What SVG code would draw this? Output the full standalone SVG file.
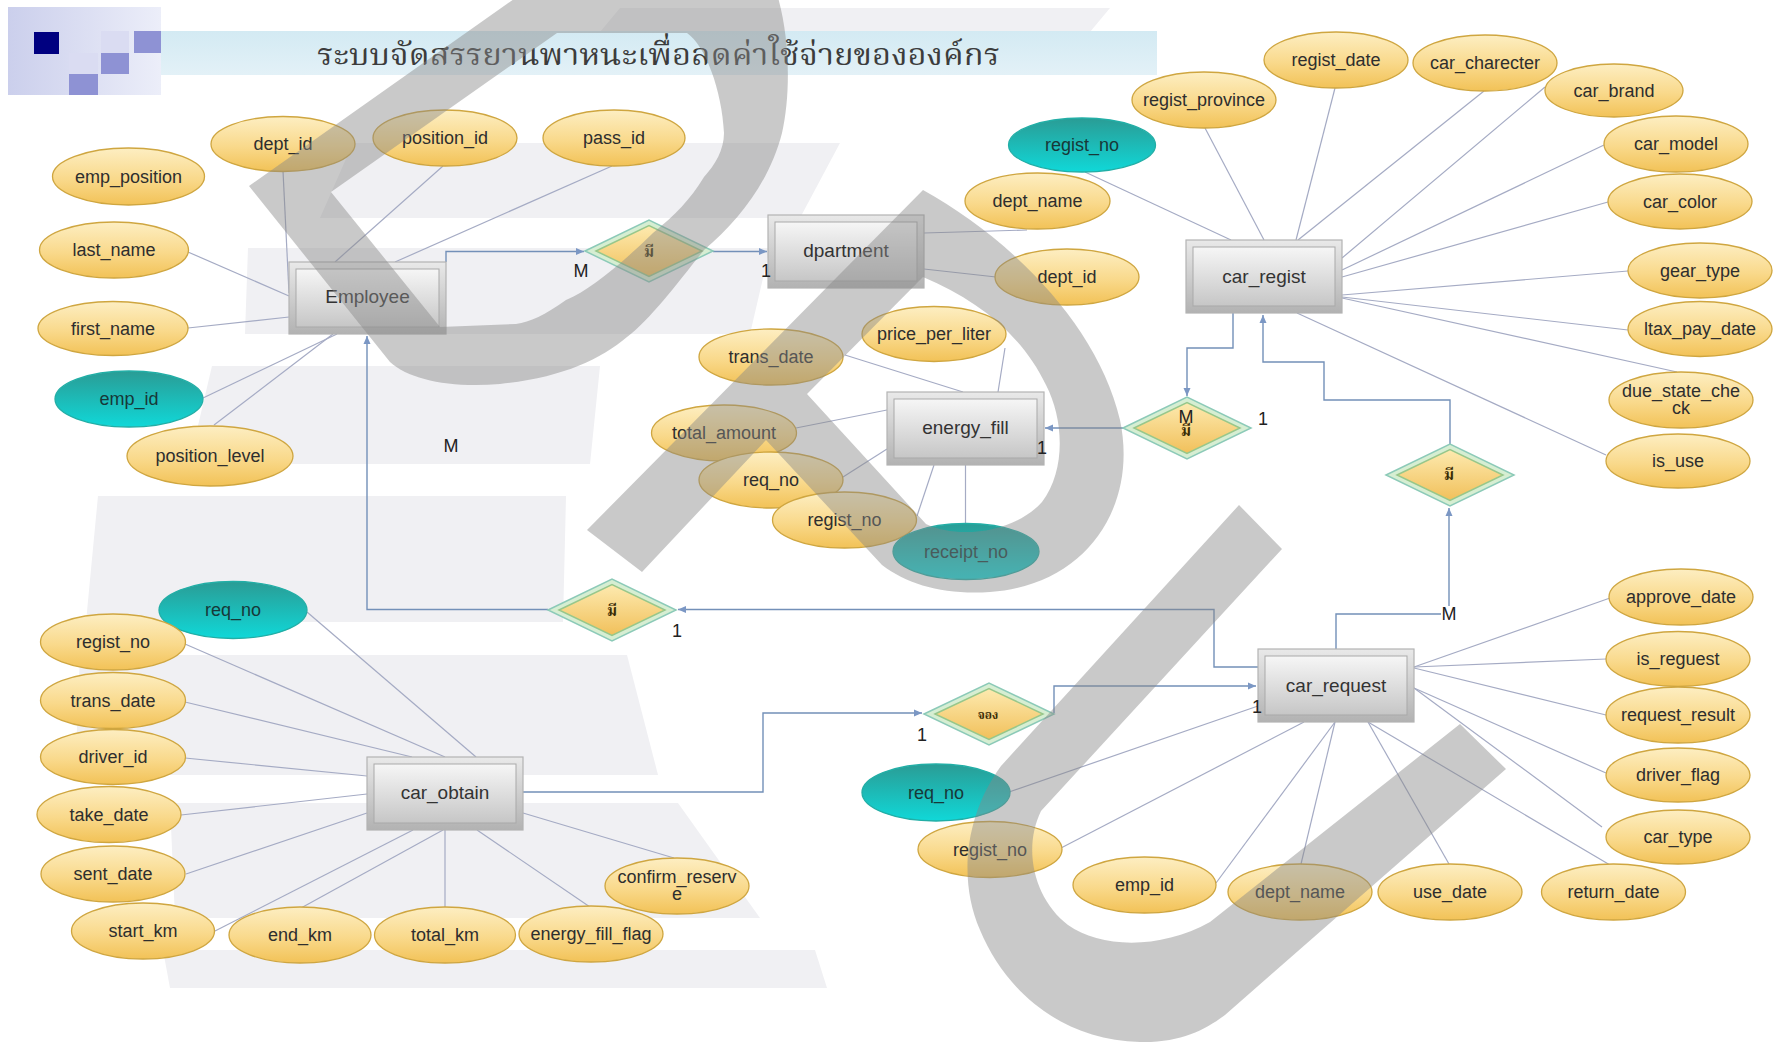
<svg xmlns="http://www.w3.org/2000/svg" width="1773" height="1047" viewBox="0 0 1773 1047">
  <defs>
    <linearGradient id="attrFill" x1="0" y1="0" x2="0" y2="1">
      <stop offset="0" stop-color="#fdeec2"/>
      <stop offset="0.55" stop-color="#f9d98b"/>
      <stop offset="1" stop-color="#f2c257"/>
    </linearGradient>
    <linearGradient id="keyFill" x1="0" y1="0" x2="0" y2="1">
      <stop offset="0" stop-color="#2a9c95"/>
      <stop offset="1" stop-color="#10d8d8"/>
    </linearGradient>
    <linearGradient id="entOuter" x1="0" y1="0" x2="0" y2="1">
      <stop offset="0" stop-color="#e9e9e9"/>
      <stop offset="1" stop-color="#b2b2b2"/>
    </linearGradient>
    <linearGradient id="entInner" x1="0" y1="0" x2="0" y2="1">
      <stop offset="0" stop-color="#f6f6f6"/>
      <stop offset="1" stop-color="#c6c6c6"/>
    </linearGradient>
    <linearGradient id="relFill" x1="0" y1="0" x2="0" y2="1">
      <stop offset="0" stop-color="#fdeab0"/>
      <stop offset="1" stop-color="#f1c05a"/>
    </linearGradient>
    <linearGradient id="panelFill" x1="0" y1="0" x2="1" y2="0">
      <stop offset="0" stop-color="#cbcfec"/>
      <stop offset="1" stop-color="#eceef9"/>
    </linearGradient>
    <linearGradient id="bannerFill" x1="0" y1="0" x2="0" y2="1">
      <stop offset="0" stop-color="#d3eaf3"/>
      <stop offset="1" stop-color="#e3f1f7"/>
    </linearGradient>
    <marker id="arrow" markerUnits="userSpaceOnUse" markerWidth="9" markerHeight="8" refX="8" refY="4" orient="auto">
      <path d="M0,0.5 L8,4 L0,7.5 Z" fill="#7b97c4"/>
    </marker>
    <style>
      .band { fill: #f0f0f3; }
      .link { stroke: #a5abc4; stroke-width: 1.2; fill: none; }
      .rel { stroke: #7390b8; stroke-width: 1.4; fill: none; }
      .attr ellipse { fill: url(#attrFill); stroke: #cfa640; stroke-width: 1.3; }
      .key ellipse { fill: url(#keyFill); stroke: #22aea6; stroke-width: 1.3; }
      .entity .outer { fill: url(#entOuter); stroke: #b3b3b3; stroke-width: 1.2; }
      .entity .inner { fill: url(#entInner); stroke: #a9a9a9; stroke-width: 1; }
      .relation .outer { fill: #d6eed2; stroke: #8ccab8; stroke-width: 1.5; }
      .relation .inner { fill: url(#relFill); stroke: #97c78b; stroke-width: 1.5; }
      text { font-family: "Liberation Sans", Arial, sans-serif; fill: #2e2e2e; text-anchor: middle; }
      .attr text, .key text { font-size: 18px; }
      .key text { fill: #173838; }
      .entity text { font-size: 19px; fill: #333; }
      .thai { font-family: "Noto Serif Thai", "Noto Sans Thai", "Tlwg Typo", "Garuda", "Loma", "Norasi", "Noto Sans", sans-serif; }
      .title-text { text-anchor: start; font-size: 30px; fill: #3c3c3c; }
      .relation text { font-size: 15px; font-weight: bold; fill: #3a2c06; }
      .card text { font-size: 18px; fill: #222; }
      .watermark { fill: #888888; opacity: 0.45; }
    </style>
  </defs>

  <rect width="1773" height="1047" fill="#ffffff"/>

  <!-- pale slide backdrop bands -->
  <g id="backdrop">
    <polygon class="band" points="620,8 1110,8 1090,32 600,32"/>
    <polygon class="band" points="353,143 840,143 800,218 320,218"/>
    <polygon class="band" points="248,248 770,248 750,334 245,334"/>
    <polygon class="band" points="212,366 600,366 590,464 189,464"/>
    <polygon class="band" points="98,496 566,496 563,622 86,622"/>
    <polygon class="band" points="80,655 627,655 658,775 75,775"/>
    <polygon class="band" points="170,803 678,803 760,918 175,918"/>
    <polygon class="band" points="163,950 815,950 827,988 170,988"/>
  </g>

  <!-- title block -->
  <g id="title">
    <rect x="8" y="7" width="153" height="88" fill="url(#panelFill)"/>
    <rect x="101" y="31" width="28" height="22" fill="#dadcf2"/>
    <rect x="69" y="53" width="29" height="21" fill="#dadcf2"/>
    <rect x="34" y="32" width="25" height="22" fill="#000080"/>
    <rect x="134" y="31" width="27" height="22" fill="#8e92d4"/>
    <rect x="101" y="53" width="28" height="21" fill="#8e92d4"/>
    <rect x="69" y="74" width="29" height="21" fill="#8e92d4"/>
    <rect x="161" y="31" width="996" height="44" fill="url(#bannerFill)"/>
    <text class="thai title-text" x="317" y="65" textLength="683" lengthAdjust="spacingAndGlyphs">ระบบจัดสรรยานพาหนะเพื่อลดค่าใช้จ่ายขององค์กร</text>
  </g>

  <g id="connectors">
    <g id="attribute-links" class="link">
      <!-- Employee -->
      <line x1="283" y1="171" x2="289" y2="293"/>
      <line x1="443" y1="166" x2="335" y2="262"/>
      <line x1="612" y1="166" x2="395" y2="262"/>
      <line x1="188" y1="252" x2="289" y2="296"/>
      <line x1="188" y1="328" x2="289" y2="317"/>
      <line x1="203" y1="398" x2="337" y2="334"/>
      <line x1="214" y1="425" x2="333" y2="334"/>
      <!-- dpartment -->
      <line x1="924" y1="233" x2="1027" y2="230"/>
      <line x1="924" y1="269" x2="996" y2="277"/>
      <!-- car_regist -->
      <line x1="1085" y1="172" x2="1231" y2="240"/>
      <line x1="1205" y1="128" x2="1264" y2="240"/>
      <line x1="1335" y1="88" x2="1296" y2="240"/>
      <line x1="1484" y1="91" x2="1298" y2="240"/>
      <line x1="1545" y1="87" x2="1342" y2="258"/>
      <line x1="1604" y1="145" x2="1342" y2="270"/>
      <line x1="1608" y1="202" x2="1342" y2="277"/>
      <line x1="1628" y1="271" x2="1342" y2="295"/>
      <line x1="1628" y1="330" x2="1342" y2="297"/>
      <line x1="1677" y1="372" x2="1342" y2="298"/>
      <line x1="1606" y1="455" x2="1297" y2="313"/>
      <!-- energy_fill -->
      <line x1="1005" y1="348" x2="998" y2="392"/>
      <line x1="845" y1="355" x2="963" y2="392"/>
      <line x1="796" y1="428" x2="887" y2="410"/>
      <line x1="843" y1="477" x2="887" y2="449"/>
      <line x1="917" y1="516" x2="934" y2="465"/>
      <line x1="965.5" y1="524" x2="965.5" y2="465"/>
      <!-- car_obtain -->
      <line x1="307" y1="612" x2="476" y2="757"/>
      <line x1="185" y1="644" x2="445" y2="757"/>
      <line x1="185" y1="702" x2="412" y2="757"/>
      <line x1="185" y1="758" x2="367" y2="776"/>
      <line x1="181" y1="815" x2="367" y2="794"/>
      <line x1="186" y1="874" x2="367" y2="813"/>
      <line x1="215" y1="931" x2="413" y2="830"/>
      <line x1="301" y1="908" x2="443" y2="830"/>
      <line x1="445" y1="908" x2="445" y2="830"/>
      <line x1="590" y1="907" x2="477" y2="830"/>
      <line x1="674" y1="858" x2="523" y2="813"/>
      <!-- car_request -->
      <line x1="1009" y1="792" x2="1258" y2="706"/>
      <line x1="1061" y1="848" x2="1304" y2="722"/>
      <line x1="1216" y1="883" x2="1335" y2="722"/>
      <line x1="1301" y1="864" x2="1335" y2="722"/>
      <line x1="1449" y1="864" x2="1368" y2="722"/>
      <line x1="1610" y1="865" x2="1368" y2="722"/>
      <line x1="1602" y1="827" x2="1414" y2="688"/>
      <line x1="1606" y1="773" x2="1414" y2="688"/>
      <line x1="1606" y1="715" x2="1414" y2="668"/>
      <line x1="1606" y1="659" x2="1414" y2="667"/>
      <line x1="1610" y1="598" x2="1414" y2="667"/>
    </g>
    <g id="relationship-links" class="rel">
      <path d="M446,262 V251.5 H584" marker-end="url(#arrow)"/>
      <path d="M713,251.5 H767" marker-end="url(#arrow)"/>
      <path d="M1233,313 V348 H1187 V396" marker-end="url(#arrow)"/>
      <path d="M1123,428 H1045" marker-end="url(#arrow)"/>
      <path d="M1450,444 V400 H1324 V362 H1263 V315" marker-end="url(#arrow)"/>
      <path d="M1336,649 V614 H1441"/>
      <path d="M1449,606 V508" marker-end="url(#arrow)"/>
      <path d="M1258,667 H1214 V609.5 H678" marker-end="url(#arrow)"/>
      <path d="M548,609.5 H367 V336" marker-end="url(#arrow)"/>
      <path d="M523,792 H763 V713 H922" marker-end="url(#arrow)"/>
      <path d="M1054,713 V686 H1256" marker-end="url(#arrow)"/>
    </g>
  </g>

  <!-- relationships -->
  <g id="rel-employee-dpartment" class="relation">
    <polygon class="outer" points="585,251 649,220 713,251 649,282"/>
    <polygon class="inner" points="596,251 649,225.5 702,251 649,276.5"/>
    <text class="thai" x="649" y="257">มี</text>
  </g>
  <g id="rel-carregist-energyfill" class="relation">
    <polygon class="outer" points="1123,428 1187,397 1251,428 1187,459"/>
    <polygon class="inner" points="1134,428 1187,402.5 1240,428 1187,453.5"/>
    <text class="thai" x="1186" y="436">มี</text>
  </g>
  <g id="rel-carrequest-carregist" class="relation">
    <polygon class="outer" points="1386,475 1450,444 1514,475 1450,506"/>
    <polygon class="inner" points="1397,475 1450,449.5 1503,475 1450,500.5"/>
    <text class="thai" x="1449" y="480">มี</text>
  </g>
  <g id="rel-carrequest-employee" class="relation">
    <polygon class="outer" points="548,610 612,579 676,610 612,641"/>
    <polygon class="inner" points="559,610 612,584.5 665,610 612,635.5"/>
    <text class="thai" x="612" y="616">มี</text>
  </g>
  <g id="rel-carobtain-carrequest" class="relation">
    <polygon class="outer" points="924,714 989,683 1054,714 989,745"/>
    <polygon class="inner" points="935,714 989,688.5 1043,714 989,739.5"/>
    <text class="thai" x="988" y="719" style="font-size:12px">จอง</text>
  </g>

  <!-- entities -->
  <g id="employee" class="entity">
    <rect class="outer" x="289" y="262" width="157" height="72"/>
    <rect class="inner" x="296" y="269" width="143" height="58"/>
    <text x="367.5" y="303">Employee</text>
  </g>
  <g id="dpartment" class="entity">
    <rect class="outer" x="768" y="215" width="156" height="73"/>
    <rect class="inner" x="775" y="222" width="142" height="59"/>
    <text x="846" y="257">dpartment</text>
  </g>
  <g id="car_regist" class="entity">
    <rect class="outer" x="1186" y="240" width="156" height="73"/>
    <rect class="inner" x="1193" y="247" width="142" height="59"/>
    <text x="1264" y="283">car_regist</text>
  </g>
  <g id="energy_fill" class="entity">
    <rect class="outer" x="887" y="392" width="157" height="73"/>
    <rect class="inner" x="894" y="399" width="143" height="59"/>
    <text x="965.5" y="434">energy_fill</text>
  </g>
  <g id="car_obtain" class="entity">
    <rect class="outer" x="367" y="757" width="156" height="73"/>
    <rect class="inner" x="374" y="764" width="142" height="59"/>
    <text x="445" y="799">car_obtain</text>
  </g>
  <g id="car_request" class="entity">
    <rect class="outer" x="1258" y="649" width="156" height="73"/>
    <rect class="inner" x="1265" y="656" width="142" height="59"/>
    <text x="1336" y="692">car_request</text>
  </g>

  <!-- Employee attributes -->
  <g id="employee-emp_position" class="attr"><ellipse cx="128.5" cy="176.5" rx="76" ry="28.5"/><text x="128.5" y="182.5">emp_position</text></g>
  <g id="employee-dept_id" class="attr"><ellipse cx="283" cy="144" rx="72" ry="27.5"/><text x="283" y="150">dept_id</text></g>
  <g id="employee-position_id" class="attr"><ellipse cx="445" cy="138" rx="72" ry="28"/><text x="445" y="144">position_id</text></g>
  <g id="employee-pass_id" class="attr"><ellipse cx="614" cy="138" rx="71" ry="28"/><text x="614" y="144">pass_id</text></g>
  <g id="employee-last_name" class="attr"><ellipse cx="114" cy="250" rx="74.5" ry="28"/><text x="114" y="256">last_name</text></g>
  <g id="employee-first_name" class="attr"><ellipse cx="113" cy="328.5" rx="75" ry="27"/><text x="113" y="334.5">first_name</text></g>
  <g id="employee-emp_id" class="key"><ellipse cx="129" cy="399" rx="74" ry="28"/><text x="129" y="405">emp_id</text></g>
  <g id="employee-position_level" class="attr"><ellipse cx="210" cy="456" rx="83" ry="30"/><text x="210" y="462">position_level</text></g>

  <!-- dpartment attributes -->
  <g id="dpartment-dept_name" class="attr"><ellipse cx="1037.5" cy="201" rx="72.5" ry="28"/><text x="1037.5" y="207">dept_name</text></g>
  <g id="dpartment-dept_id" class="attr"><ellipse cx="1067" cy="277" rx="72" ry="28"/><text x="1067" y="283">dept_id</text></g>

  <!-- car_regist attributes -->
  <g id="car_regist-regist_no" class="key"><ellipse cx="1082" cy="145" rx="73.5" ry="27"/><text x="1082" y="151">regist_no</text></g>
  <g id="car_regist-regist_province" class="attr"><ellipse cx="1204" cy="100" rx="72" ry="28"/><text x="1204" y="106">regist_province</text></g>
  <g id="car_regist-regist_date" class="attr"><ellipse cx="1336" cy="60" rx="72" ry="28"/><text x="1336" y="66">regist_date</text></g>
  <g id="car_regist-car_charecter" class="attr"><ellipse cx="1485" cy="63" rx="72" ry="28"/><text x="1485" y="69">car_charecter</text></g>
  <g id="car_regist-car_brand" class="attr"><ellipse cx="1614" cy="90.5" rx="69" ry="26.5"/><text x="1614" y="96.5">car_brand</text></g>
  <g id="car_regist-car_model" class="attr"><ellipse cx="1676" cy="144" rx="72" ry="28"/><text x="1676" y="150">car_model</text></g>
  <g id="car_regist-car_color" class="attr"><ellipse cx="1680" cy="201.5" rx="72" ry="27.5"/><text x="1680" y="207.5">car_color</text></g>
  <g id="car_regist-gear_type" class="attr"><ellipse cx="1700" cy="270.5" rx="72" ry="27.5"/><text x="1700" y="276.5">gear_type</text></g>
  <g id="car_regist-ltax_pay_date" class="attr"><ellipse cx="1700" cy="329" rx="72" ry="27.5"/><text x="1700" y="335">ltax_pay_date</text></g>
  <g id="car_regist-due_state_check" class="attr"><ellipse cx="1681" cy="400" rx="72" ry="28"/><text x="1681" y="397">due_state_che</text><text x="1681" y="414">ck</text></g>
  <g id="car_regist-is_use" class="attr"><ellipse cx="1678" cy="461" rx="72" ry="27"/><text x="1678" y="467">is_use</text></g>

  <!-- energy_fill attributes -->
  <g id="energy_fill-price_per_liter" class="attr"><ellipse cx="934" cy="334" rx="72" ry="27.5"/><text x="934" y="340">price_per_liter</text></g>
  <g id="energy_fill-trans_date" class="attr"><ellipse cx="771" cy="357" rx="72" ry="28"/><text x="771" y="363">trans_date</text></g>
  <g id="energy_fill-total_amount" class="attr"><ellipse cx="724" cy="433" rx="72.5" ry="28"/><text x="724" y="439">total_amount</text></g>
  <g id="energy_fill-req_no" class="attr"><ellipse cx="771" cy="480" rx="72" ry="28"/><text x="771" y="486">req_no</text></g>
  <g id="energy_fill-regist_no" class="attr"><ellipse cx="844.5" cy="520" rx="72" ry="28"/><text x="844.5" y="526">regist_no</text></g>
  <g id="energy_fill-receipt_no" class="key"><ellipse cx="966" cy="551.5" rx="73" ry="28"/><text x="966" y="557.5">receipt_no</text></g>

  <!-- car_obtain attributes -->
  <g id="car_obtain-req_no" class="key"><ellipse cx="233" cy="610" rx="74" ry="28.5"/><text x="233" y="616">req_no</text></g>
  <g id="car_obtain-regist_no" class="attr"><ellipse cx="113" cy="642" rx="72.5" ry="28"/><text x="113" y="648">regist_no</text></g>
  <g id="car_obtain-trans_date" class="attr"><ellipse cx="113" cy="700.5" rx="72.5" ry="28"/><text x="113" y="706.5">trans_date</text></g>
  <g id="car_obtain-driver_id" class="attr"><ellipse cx="113" cy="757" rx="72.5" ry="27.5"/><text x="113" y="763">driver_id</text></g>
  <g id="car_obtain-take_date" class="attr"><ellipse cx="109" cy="814.5" rx="72" ry="28"/><text x="109" y="820.5">take_date</text></g>
  <g id="car_obtain-sent_date" class="attr"><ellipse cx="113" cy="874" rx="72" ry="28"/><text x="113" y="880">sent_date</text></g>
  <g id="car_obtain-start_km" class="attr"><ellipse cx="143" cy="931" rx="71.5" ry="28"/><text x="143" y="937">start_km</text></g>
  <g id="car_obtain-end_km" class="attr"><ellipse cx="300" cy="935" rx="71" ry="28"/><text x="300" y="941">end_km</text></g>
  <g id="car_obtain-total_km" class="attr"><ellipse cx="445" cy="935" rx="70.5" ry="28"/><text x="445" y="941">total_km</text></g>
  <g id="car_obtain-energy_fill_flag" class="attr"><ellipse cx="591" cy="934" rx="72" ry="28"/><text x="591" y="940">energy_fill_flag</text></g>
  <g id="car_obtain-confirm_reserve" class="attr"><ellipse cx="677" cy="886" rx="72" ry="28"/><text x="677" y="883">confirm_reserv</text><text x="677" y="900">e</text></g>

  <!-- car_request attributes -->
  <g id="car_request-req_no" class="key"><ellipse cx="936" cy="792.5" rx="74" ry="28.5"/><text x="936" y="798.5">req_no</text></g>
  <g id="car_request-regist_no" class="attr"><ellipse cx="990" cy="849.5" rx="72" ry="28"/><text x="990" y="855.5">regist_no</text></g>
  <g id="car_request-emp_id" class="attr"><ellipse cx="1144.5" cy="885" rx="71.5" ry="28"/><text x="1144.5" y="891">emp_id</text></g>
  <g id="car_request-dept_name" class="attr"><ellipse cx="1300" cy="892" rx="72" ry="28"/><text x="1300" y="898">dept_name</text></g>
  <g id="car_request-use_date" class="attr"><ellipse cx="1450" cy="892" rx="72" ry="28"/><text x="1450" y="898">use_date</text></g>
  <g id="car_request-return_date" class="attr"><ellipse cx="1613.5" cy="892" rx="72" ry="28"/><text x="1613.5" y="898">return_date</text></g>
  <g id="car_request-approve_date" class="attr"><ellipse cx="1681" cy="597" rx="72" ry="28"/><text x="1681" y="603">approve_date</text></g>
  <g id="car_request-is_reguest" class="attr"><ellipse cx="1678" cy="659" rx="72" ry="27.5"/><text x="1678" y="665">is_reguest</text></g>
  <g id="car_request-request_result" class="attr"><ellipse cx="1678" cy="715" rx="72" ry="28"/><text x="1678" y="721">request_result</text></g>
  <g id="car_request-driver_flag" class="attr"><ellipse cx="1678" cy="775" rx="72" ry="27"/><text x="1678" y="781">driver_flag</text></g>
  <g id="car_request-car_type" class="attr"><ellipse cx="1678" cy="837" rx="72" ry="27"/><text x="1678" y="843">car_type</text></g>

  <!-- cardinality labels -->
  <g id="cardinalities" class="card">
    <text x="581" y="277">M</text>
    <text x="766" y="277">1</text>
    <text x="451" y="452">M</text>
    <text x="1186" y="423">M</text>
    <text x="1263" y="425">1</text>
    <text x="1042" y="454">1</text>
    <text x="1449" y="620">M</text>
    <text x="677" y="637">1</text>
    <text x="922" y="741">1</text>
    <text x="1257" y="713">1</text>
  </g>

  <!-- translucent logo overlay -->
  <g id="overlay">
    <path class="watermark" fill-rule="evenodd" d="M249,186 L548,-25 L770,-25 C790,20 792,90 782,133 C770,180 740,220 704,250 C680,280 650,320 627,337 C600,360 560,378 500,384 C450,388 410,380 390,362 Z M331,192 L557,33 L687,33 C705,45 722,90 724,133 C724,150 715,165 704,177 C690,200 675,215 653,233 C620,265 590,290 566,300 C545,315 530,322 516,324 L440,327 Z"/>
    <path class="watermark" fill-rule="evenodd" d="M587,530 L923,190 C1010,238 1098,325 1120,420 C1138,505 1088,585 990,592 C945,595 908,585 882,565 L766,440 L642,572 Z M923,277 L807,394 L926,524 C960,540 1015,532 1042,502 C1066,470 1064,420 1046,385 C1022,335 978,300 923,277 Z"/>
    <path class="watermark" d="M1239,505 L1001,766 C965,815 958,880 980,930 C1005,990 1060,1040 1140,1042 C1180,1043 1205,1030 1225,1015 L1506,769 L1460,724 L1210,922 C1160,950 1100,948 1068,925 C1035,900 1022,850 1041,811 L1282,549 Z"/>
  </g>
</svg>
